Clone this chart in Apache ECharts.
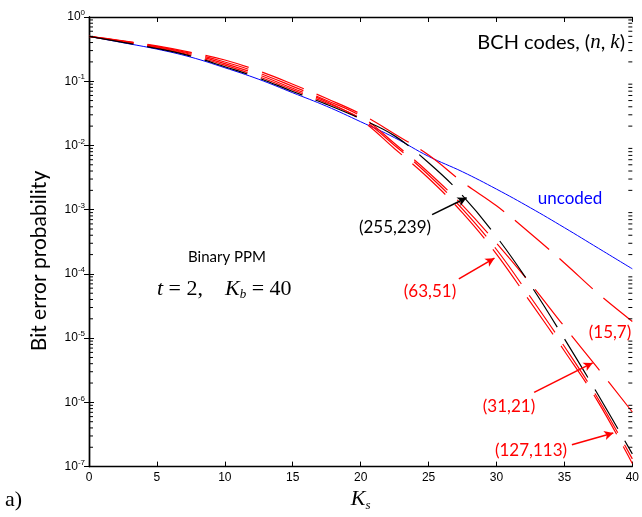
<!DOCTYPE html>
<html>
<head>
<meta charset="utf-8">
<script src="https://cdn.jsdelivr.net/npm/echarts@6/dist/echarts.min.js"></script>
<style>
html, body { margin: 0; padding: 0; background: #fff; }
#chart { width: 642px; height: 517px; }
</style>
</head>
<body>
<div id="chart"></div>
<script>
// signal photons per bit
var ks = [0, 2.5, 5, 7.5, 10, 12.5, 15, 17.5, 20, 22.5, 25, 27.5, 30, 32.5, 35, 37.5, 40];

// bit error probability
var uncoded   = [0.5, 0.3981, 0.3162, 0.2371, 0.1622, 0.1072, 0.0661, 0.0407, 0.0234, 0.0132, 0.00676, 0.00389, 0.00209, 0.00107, 0.000525, 0.000251, 0.000120];
var bch15_7   = [0.5, 0.4266, 0.3548, 0.2818, 0.2138, 0.1445, 0.0899, 0.0537, 0.0309, 0.0151, 0.00708, 0.00269, 0.00115, 0.000427, 0.000148, 4.90e-5, 1.82e-5];
var bch31_21  = [0.5, 0.4217, 0.3467, 0.2723, 0.1995, 0.1349, 0.0832, 0.0501, 0.0285, 0.0107, 0.00380, 0.00117, 0.000302, 7.08e-5, 1.51e-5, 3.31e-6, 7.08e-7];
var bch63_51  = [0.5, 0.4169, 0.3388, 0.2630, 0.1884, 0.1259, 0.0776, 0.0479, 0.0251, 0.00891, 0.00309, 0.000891, 0.000204, 3.63e-5, 6.31e-6, 1.00e-6, 1.12e-7];
var bch127_113 = [0.5, 0.4121, 0.3311, 0.2541, 0.1778, 0.1175, 0.0733, 0.0457, 0.0263, 0.0100, 0.00347, 0.00102, 0.000240, 4.37e-5, 7.41e-6, 1.12e-6, 1.32e-7];
var bch255_239 = [0.5, 0.4027, 0.3236, 0.2455, 0.1679, 0.1122, 0.0692, 0.0437, 0.0260, 0.0141, 0.00537, 0.00166, 0.000380, 6.76e-5, 9.77e-6, 1.29e-6, 1.58e-7];

// arrows: [tail, head, colour]
var arrows = [
    [[25.26, 8.37e-4], [27.8, 1.53e-3], '#000'],
    [[27.23, 8.38e-5], [29.85, 1.76e-4], '#ff0000'],
    [[32.77, 1.43e-6], [37.08, 4.12e-6], '#ff0000'],
    [[35.55, 2.19e-7], [38.6, 3.33e-7], '#ff0000']
];

// minor ticks on log axis: 2..9 x 10^e
var minorTicks = [];
for (var e = -7; e < 0; e++) {
    for (var m = 2; m < 10; m++) minorTicks.push(m * Math.pow(10, e));
}

function pairs(ys) {
    return ks.map(function (k, i) { return [k, ys[i]]; });
}

var chart = echarts.init(document.getElementById('chart'));

var dash = [45, 14];
function coded(name, ys, color) {
    return {
        name: name,
        type: 'line',
        data: pairs(ys),
        smooth: 0.4,
        showSymbol: false,
        lineStyle: { color: color, width: 1.2, type: dash }
    };
}

var sansLabel = 'Lato, "Open Sans", sans-serif';
function label(txt, x, y, color) {
    return { type: 'text', x: x, y: y, style: { text: txt, fill: color, font: '17px ' + sansLabel, align: 'center', verticalAlign: 'middle' } };
}

var option = {
    animation: false,
    backgroundColor: '#fff',
    grid: { left: 89, right: 5, top: 17, bottom: 45 },
    xAxis: [{
        type: 'value', min: 0, max: 40, interval: 5,
        axisLine: { lineStyle: { color: '#000', width: 1.4 } },
        axisTick: { inside: true, length: 5, lineStyle: { color: '#000' } },
        axisLabel: { color: '#000', fontFamily: 'Liberation Sans, Arial', fontSize: 12, margin: 5 },
        splitLine: { show: false },
        name: '{i|K}{s|s}',
        nameLocation: 'middle',
        nameGap: 15,
        nameTextStyle: {
            rich: {
                i: { fontFamily: 'Liberation Serif', fontStyle: 'italic', fontSize: 22, color: '#000' },
                s: { fontFamily: 'Liberation Serif', fontStyle: 'italic', fontSize: 13, color: '#000', padding: [12, 0, 0, 0] }
            }
        }
    }, {
        type: 'value', min: 0, max: 40, interval: 5, position: 'top',
        axisLine: { lineStyle: { color: '#000', width: 1.4 } },
        axisTick: { inside: true, length: 5, lineStyle: { color: '#000' } },
        axisLabel: { show: false },
        splitLine: { show: false }
    }],
    yAxis: [{
        type: 'log', logBase: 10, min: 1e-7, max: 1, interval: 1,
        axisLine: { show: true, lineStyle: { color: '#000', width: 1.4 } },
        axisTick: { show: true, inside: true, length: 5, lineStyle: { color: '#000' } },
        axisLabel: {
            margin: 4,
            formatter: function (v) {
                return '{b|10}{s|' + Math.round(Math.log10(v)) + '}';
            },
            rich: {
                b: { fontFamily: 'Liberation Sans, Arial', fontSize: 12, color: '#000' },
                s: { fontFamily: 'Liberation Sans, Arial', fontSize: 8, color: '#000', padding: [0, 0, 8, 0] }
            }
        },
        splitLine: { show: false }
    }, {
        type: 'log', logBase: 10, min: 1e-7, max: 1, interval: 1, position: 'right',
        axisLine: { show: true, lineStyle: { color: '#000', width: 1.4 } },
        axisTick: { show: true, inside: true, length: 5, lineStyle: { color: '#000' } },
        axisLabel: { show: false },
        splitLine: { show: false }
    }],
    series: [
        {
            name: 'uncoded',
            type: 'line',
            data: pairs(uncoded),
            smooth: 0.4,
            showSymbol: false,
            lineStyle: { color: '#0000ff', width: 1 },
            markLine: {
                silent: true,
                symbol: ['none', 'arrow'],
                symbolSize: [7, 9],
                label: { show: false },
                data: arrows.map(function (a) {
                    return [
                        { coord: a[0], lineStyle: { color: a[2], width: 1.6, type: 'solid' } },
                        { coord: a[1] }
                    ];
                })
            }
        },
        coded('(15,7)', bch15_7, '#ff0000'),
        coded('(31,21)', bch31_21, '#ff0000'),
        coded('(63,51)', bch63_51, '#ff0000'),
        coded('(127,113)', bch127_113, '#ff0000'),
        coded('(255,239)', bch255_239, '#000000'),
        {
            name: 'minor',
            type: 'custom',
            silent: true,
            z: 5,
            data: minorTicks.map(function (v) { return [0, v]; }),
            renderItem: function (params, api) {
                var l = api.coord([0, api.value(1)]);
                var r = api.coord([40, api.value(1)]);
                return {
                    type: 'group',
                    children: [
                        { type: 'line', shape: { x1: l[0], y1: l[1], x2: l[0] + 4, y2: l[1] }, style: { stroke: '#000', lineWidth: 1 } },
                        { type: 'line', shape: { x1: r[0] - 4, y1: r[1], x2: r[0], y2: r[1] }, style: { stroke: '#000', lineWidth: 1 } }
                    ]
                };
            }
        }
    ],
    graphic: [
        {
            type: 'text', right: 17, top: 32,
            style: {
                text: '{a|BCH codes, (}{i|n}{a|, }{i|k}{a|)}',
                rich: {
                    a: { fontFamily: sansLabel, fontSize: 20, fill: '#000' },
                    i: { fontFamily: 'Liberation Serif', fontStyle: 'italic', fontSize: 21, fill: '#000' }
                }
            }
        },
        {
            type: 'text', x: 39, y: 261, rotation: Math.PI / 2,
            style: { text: 'Bit error probability', fill: '#000', font: '21px ' + sansLabel, align: 'center', verticalAlign: 'middle' }
        },
        label('uncoded', 570, 199, '#0000ff'),
        label('(255,239)', 395, 228, '#000'),
        label('(63,51)', 430, 292, '#ff0000'),
        label('(15,7)', 610, 333, '#ff0000'),
        label('(31,21)', 509, 407, '#ff0000'),
        label('(127,113)', 531, 451, '#ff0000'),
        { type: 'text', x: 188, y: 257, style: { text: 'Binary PPM', fill: '#000', font: '15px ' + sansLabel, verticalAlign: 'middle' } },
        {
            type: 'text', x: 157, y: 289,
            style: {
                text: '{i|t}{r| = 2,    }{i|K}{s|b}{r| = 40}',
                verticalAlign: 'middle',
                rich: {
                    i: { fontFamily: 'Liberation Serif', fontStyle: 'italic', fontSize: 22, fill: '#000' },
                    r: { fontFamily: 'Liberation Serif', fontSize: 22, fill: '#000' },
                    s: { fontFamily: 'Liberation Serif', fontStyle: 'italic', fontSize: 13, fill: '#000', padding: [11, 0, 0, 0] }
                }
            }
        },
        { type: 'text', x: 5, y: 500, style: { text: 'a)', fill: '#000', font: '22px "Liberation Serif"', verticalAlign: 'middle' } }
    ]
};

chart.setOption(option);
</script>
</body>
</html>
